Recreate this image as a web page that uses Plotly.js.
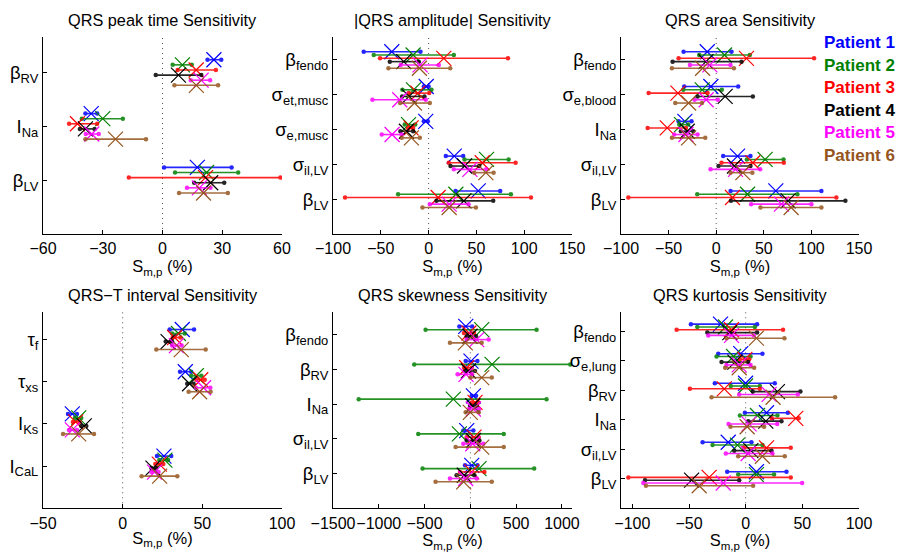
<!DOCTYPE html>
<html><head><meta charset="utf-8">
<script src="https://cdn.plot.ly/plotly-3.0.1.min.js"></script>
<style>html,body{margin:0;padding:0;background:#fff}#chart{width:898px;height:559px}</style>
</head><body><div id="chart"></div>
<script>
const patients = ["Patient 1","Patient 2","Patient 3","Patient 4","Patient 5","Patient 6"];
const colors = ["rgb(0,0,255)","rgb(0,128,0)","rgb(255,0,0)","rgb(0,0,0)","rgb(255,0,255)","rgb(150,85,30)"];

// Panel 1: QRS peak time
const peakCats = ["β<sub>RV</sub>","I<sub>Na</sub>","β<sub>LV</sub>"];
const peakLo  = [[22.6,5.1,7.6,-3.4,14.2,6.0],[-38.7,-40.5,-46.9,-41.5,-38.5,-38.7],[0.8,6.3,-16.9,15.9,12.3,8.3]];
const peakMid = [[25.8,10.0,16.9,8.0,19.4,17.0],[-35.8,-30.0,-42.7,-38.7,-35.5,-23.6],[17.5,22.1,21.6,24.2,18.5,20.6]];
const peakHi  = [[29.5,14.7,26.8,19.5,23.9,27.9],[-32.8,-19.9,-32.8,-34.1,-32.0,-8.3],[34.7,38.0,59.2,31.0,24.1,32.8]];

// Panel 2: |QRS amplitude|
const ampCats = ["β<sub>fendo</sub>","σ<sub>et,musc</sub>","σ<sub>e,musc</sub>","σ<sub>il,LV</sub>","β<sub>LV</sub>"];
const ampLo  = [[-67.9,-57.4,-50.8,-40.6,-29.1,-42.0],[-5,-27.4,-20.7,-27.7,-58.8,-29.8],[-5,-25,-21.5,-29.5,-49.0,-28.1],[18.0,37.6,21.1,22.9,26.4,47.7],[28.2,-31.9,-87.4,8.3,1.3,-6.4]];
const ampMid = [[-38.5,-16.2,15.9,-26.0,-8.9,-9.6],[-2.5,-15.8,-11.3,-20.4,-30.2,-14.8],[-3,-21,-18.3,-23.2,-38.2,-18.0],[26.8,60.6,56.1,37.6,43.2,59.9],[51.9,28.5,10.0,36.9,21.5,21.5]];
const ampHi  = [[-8.5,26.4,83.0,-10.3,10.7,22.6],[0,3.0,0.6,-4.3,-2.9,1.3],[-0.8,-14,-16.2,-16.2,-28.4,-9.2],[36.2,83.7,91.0,52.9,60.3,68.0],[74.9,86.1,107.1,67.6,41.8,49.5]];

// Panel 3: QRS area
const areaCats = ["β<sub>fendo</sub>","σ<sub>e,blood</sub>","I<sub>Na</sub>","σ<sub>il,LV</sub>","β<sub>LV</sub>"];
const areaLo  = [[-34.3,-17.8,-39.5,-45.8,-27.6,-46.5],[-33.6,-34.6,-71.0,-19.6,-22.7,-43.0],[-39.5,-38.8,-72.0,-37.1,-44.0,-46.5],[7.3,32.2,5.6,2.4,-5.9,15],[15.1,-19.9,-92.3,15.5,36.7,46.5]];
const areaMid = [[-9.4,8.7,31.8,-10.8,-6.6,-14.3],[-5.6,-14.7,-40.2,9.4,-10.5,-29.0],[-32.9,-36.4,-51.4,-30.4,-31.8,-29.0],[22.4,51.4,38.5,19.2,20.3,28],[62.6,32.9,17.1,75.5,68.5,78.7]];
const areaHi  = [[16.1,35.3,102.8,26.6,15.0,18.6],[23.1,5.9,-9.1,38.5,1.7,-15.0],[-25.9,-29.4,-31.8,-24.1,-19.6,-11.5],[36.0,70.7,71.0,36.0,46.2,38],[110.5,85.3,126.2,135.7,100.0,110.5]];

// Panel 4: QRS-T interval
const qtCats = ["τ<sub>f</sub>","τ<sub>xs</sub>","I<sub>Ks</sub>","I<sub>CaL</sub>"];
const qtLo  = [[29.5,31,31.4,27,31,21.1],[36,43,46.2,40.5,46,41.4],[-34.3,-30,-31.2,-26,-33.7,-37.4],[21.5,23,20.5,18,18,11.9]];
const qtMid = [[37.4,35,32.6,28.5,33.7,36.8],[39.3,46.2,49,42,50.8,48.3],[-31.6,-27.6,-29.5,-24.1,-31.6,-27.6],[25.9,26.5,23,19,20,23.2]];
const qtHi  = [[44.8,39,36.2,31,37,52.1],[43,49.4,51.5,44.5,55,55.2],[-28.7,-26,-27,-22.8,-28.7,-18.0],[30.5,28.5,25.5,21,22.5,34.3]];

// Panel 5: QRS skewness
const skewCats = ["β<sub>fendo</sub>","β<sub>RV</sub>","I<sub>Na</sub>","σ<sub>il,LV</sub>","β<sub>LV</sub>"];
const skewLo  = [[-120,-489,-70,-40,-40,-223],[-51,-613,-69,-55,-139,0],[15,-1219,15,-4,-15,-51],[-77,-569,-40,-40,-77,-161],[-58,-522,-113,-150,-223,-380]];
const skewMid = [[-50,124,-15,-4,69,-55],[7,237,-40,-22,-47,124],[33,-186,51,26,33,0],[-40,-120,40,33,26,124],[15,95,15,-66,-51,-73]];
const skewHi  = [[20,723,40,62,200,124],[77,1091,15,51,15,234],[62,832,88,69,95,91],[33,365,91,99,142,365],[77,697,153,44,69,234]];

// Panel 6: QRS kurtosis
const kurtCats = ["β<sub>fendo</sub>","σ<sub>e,lung</sub>","β<sub>RV</sub>","I<sub>Na</sub>","σ<sub>il,LV</sub>","β<sub>LV</sub>"];
const kurtLo  = [[-48.3,-42.7,-60.9,-33.9,-33.0,-16.9],[-24.2,-25.7,-5.1,-21.3,-17,-18.1],[-27.2,-13.1,-49.2,6.3,-5.7,-30.1],[-0.7,-5.1,23.0,2.2,-15.1,-13.4],[-38.0,-29.2,-1.6,-10.1,-17.5,-6.6],[-16.3,-6.6,-103.5,-88.8,-90.3,-88.0]];
const kurtMid = [[-22.2,-17.8,-12.5,-14.0,-12.5,9.5],[-4.3,-10.7,-0.7,-9.5,-5.7,-5.7],[-0.1,-0.1,-18.9,28.0,20.7,24.2],[18.4,10.4,44.2,17.8,3,1.3],[-15.4,-7.2,18.4,4.6,2.2,14.8],[9.5,9.5,-32.2,-47.7,-19.8,-41.0]];
const kurtHi  = [[10.1,8.1,33.0,10.1,7.2,34.2],[14.8,4.3,3.1,2.2,4.3,7.5],[25.7,12.5,12.5,48.3,46.0,78.9],[37.2,28.0,46.8,31.6,27.8,16.3],[5.1,14.8,39.8,22.8,23.6,34.5],[36.0,25.1,39.8,-5.7,49.8,6.6]];

const titles = ["QRS peak time Sensitivity","|QRS amplitude| Sensitivity","QRS area Sensitivity","QRS\u2212T interval Sensitivity","QRS skewness Sensitivity","QRS kurtosis Sensitivity"];
const xTicks = [[-60,-30,0,30,60],[-100,-50,0,50,100,150],[-100,-50,0,50,100,150],[-50,0,50,100],[-1500,-1000,-500,0,500,1000],[-100,-50,0,50,100]];
const xRanges = [[-60,60],[-100,150],[-100,150],[-50,100],[-1500,1110],[-110,100]];

const panels = [
  {cats:peakCats,lo:peakLo,mid:peakMid,hi:peakHi},
  {cats:ampCats,lo:ampLo,mid:ampMid,hi:ampHi},
  {cats:areaCats,lo:areaLo,mid:areaMid,hi:areaHi},
  {cats:qtCats,lo:qtLo,mid:qtMid,hi:qtHi},
  {cats:skewCats,lo:skewLo,mid:skewMid,hi:skewHi},
  {cats:kurtCats,lo:kurtLo,mid:kurtMid,hi:kurtHi}
];

const W = 898, H = 559;
const colPx = [[43,282],[333,572],[621,859]];
const rowPx = [[37,234],[311.7,508.3]];
const font = "Liberation Sans, Arial, sans-serif";
const step = 0.095;

const traces = [];
const layout = {
  width: W, height: H, margin:{l:0,r:0,t:0,b:0},
  paper_bgcolor:"#fff", plot_bgcolor:"#fff", showlegend:false,
  font:{family:font, color:"#000"},
  shapes:[], annotations:[]
};

panels.forEach((p, i) => {
  const ax = i===0 ? "" : String(i+1);
  const xa = "x"+ax, ya = "y"+ax;
  const col = colPx[i%3], row = rowPx[Math.floor(i/3)];
  const N = p.cats.length;
  for (let k = 0; k < 6; k++) {
    const lx = [], ly = [], mx = [], my = [];
    for (let c = 0; c < N; c++) {
      const yy = (c+1) + (k-2.5)*step;
      lx.push(p.lo[c][k], p.hi[c][k], null); ly.push(yy, yy, null);
      mx.push(p.mid[c][k]); my.push(yy);
    }
    traces.push({x:lx, y:ly, xaxis:xa, yaxis:ya, type:"scatter", mode:"lines+markers",
      line:{color:colors[k], width:1.6}, marker:{color:colors[k], size:4.5, symbol:"circle"},
      opacity:0.85, hoverinfo:"skip"});
    traces.push({x:mx, y:my, xaxis:xa, yaxis:ya, type:"scatter", mode:"markers",
      marker:{symbol:"x-thin-open", size:15, color:colors[k], line:{color:colors[k], width:1.2}},
      hoverinfo:"skip"});
  }
  layout["xaxis"+ax] = {
    domain:[col[0]/W, col[1]/W], anchor:ya, range:xRanges[i],
    tickvals:xTicks[i], ticktext:xTicks[i].map(v => v<0 ? "\u2212"+Math.abs(v) : String(v)),
    tickangle:0,
    ticks:"inside", ticklen:4, tickcolor:"#000", showline:true, linecolor:"#000", linewidth:1,
    showgrid:false, zeroline:false, tickfont:{size:16, family:font},
    title:{text:"S<sub>m,p</sub> (%)", font:{size:16.5, family:font}, standoff:1}
  };
  layout["yaxis"+ax] = {
    domain:[1-row[1]/H, 1-row[0]/H], anchor:xa, range:[N+1, 0.34],
    tickvals:p.cats.map((_,c)=>c+1), ticktext:p.cats,
    ticks:"inside", ticklen:4, tickcolor:"#000", showline:true, linecolor:"#000", linewidth:1,
    showgrid:false, zeroline:false, tickfont:{size:18.5, family:font}
  };
  layout.shapes.push({type:"line", xref:xa, yref:ya+" domain", x0:0, x1:0, y0:0, y1:1,
    line:{color:"#555", width:1, dash:"1px,4px"}, layer:"below"});
  layout.annotations.push({text:titles[i], xref:xa+" domain", yref:"paper", x:0.5,
    y:1-(row[0]-17)/H, xanchor:"center", yanchor:"middle", showarrow:false,
    font:{size:16.3, family:font}});
});

patients.forEach((name, k) => {
  layout.annotations.push({text:"<b>"+name+"</b>", xref:"paper", yref:"paper",
    x:822/W, y:1-(42.7+k*22.5)/H, xanchor:"left", yanchor:"middle", showarrow:false,
    font:{size:17, family:font, color:colors[k]}});
});

Plotly.newPlot("chart", traces, layout, {staticPlot:true});
</script></body></html>
